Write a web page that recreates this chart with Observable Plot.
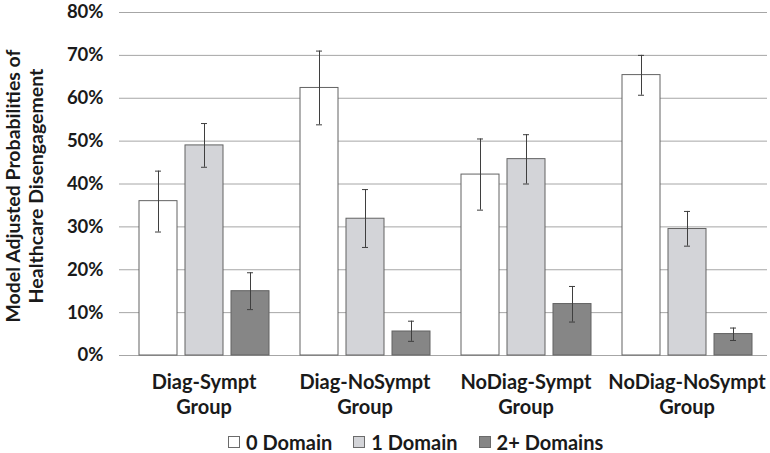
<!DOCTYPE html>
<html><head><meta charset="utf-8">
<script src="https://cdn.jsdelivr.net/npm/d3@7"></script>
<script src="https://cdn.jsdelivr.net/npm/@observablehq/plot@0.6"></script>
<style>
body{margin:0;background:#fff;font-family:Lato,sans-serif;}
#wrap{position:relative;width:770px;height:453px;overflow:hidden;}
#legend{position:absolute;left:228px;top:430px;height:24px;line-height:24px;display:flex;gap:21px;font:bold 20px Lato,sans-serif;color:#1a1a1a;white-space:nowrap;}
#legend span.item{display:flex;align-items:center;gap:6px;}
#legend span.sw{display:inline-block;width:10px;height:10px;border:1px solid #6b6b6b;}
#ytitle{position:absolute;left:-145px;top:162px;width:340px;height:48px;line-height:23px;text-align:center;transform:rotate(-90deg);font:bold 19.5px Lato,sans-serif;color:#1a1a1a;white-space:pre;}
</style></head><body><div id="wrap"></div>
<script>
const groups = ["Diag-Sympt", "Diag-NoSympt", "NoDiag-Sympt", "NoDiag-NoSympt"];
const series = ["0 Domain", "1 Domain", "2+ Domains"];
const domain0 = [36.0, 62.4, 42.2, 65.4];
const domain0Low = [28.8, 53.8, 33.9, 60.7];
const domain0High = [43.0, 71.0, 50.5, 70.0];
const domain1 = [49.0, 31.9, 45.8, 29.5];
const domain1Low = [43.9, 25.2, 40.0, 25.5];
const domain1High = [54.1, 38.7, 51.5, 33.6];
const domain2 = [15.0, 5.6, 12.0, 5.0];
const domain2Low = [10.7, 3.3, 7.8, 3.5];
const domain2High = [19.3, 8.0, 16.1, 6.4];
const yTicks = [0, 10, 20, 30, 40, 50, 60, 70, 80];
const yTitle = "Model Adjusted Probabilities of\nHealthcare Disengagement";
const colors = ["#ffffff", "#d3d4d8", "#868686"];

const vals = [domain0, domain1, domain2];
const lows = [domain0Low, domain1Low, domain2Low];
const highs = [domain0High, domain1High, domain2High];
const data = [];
series.forEach((s, si) => groups.forEach((g, gi) => data.push({group: g, series: s, value: vals[si][gi], lo: lows[si][gi], hi: highs[si][gi]})));

const chart = Plot.plot({
  width: 770, height: 430,
  marginTop: 12, marginBottom: 75, marginLeft: 122, marginRight: 3,
  style: {fontFamily: "Lato, sans-serif", fontSize: "18px", fontWeight: "bold", color: "#1a1a1a", background: "#fff"},
  fx: {domain: groups, padding: 0, axis: null, label: null},
  x: {domain: series, axis: null, paddingInner: 0.176, paddingOuter: 0.315},
  y: {domain: [0, 80], label: null},
  color: {domain: series, range: colors},
  marks: [
    Plot.ruleY(yTicks, {stroke: "#a6a6a6", strokeWidth: 1}),
    Plot.axisY({ticks: yTicks, tickFormat: d => d + "%", tickSize: 4, tickPadding: 16, stroke: "#a6a6a6", label: null, fontSize: 18.5, fontWeight: "bold"}),
    Plot.barY(data, {fx: "group", x: "series", y: "value", fill: "series", stroke: "#636363", strokeWidth: 1}),
    Plot.ruleX(data, {fx: "group", x: "series", y1: "lo", y2: "hi", stroke: "#3f3f3f", strokeWidth: 1}),
    Plot.tickY(data, {fx: "group", x: "series", y: "lo", stroke: "#3f3f3f", insetLeft: 16, insetRight: 16}),
    Plot.tickY(data, {fx: "group", x: "series", y: "hi", stroke: "#3f3f3f", insetLeft: 16, insetRight: 16}),
    Plot.text(groups, {fx: d => d, text: d => d + "\nGroup", frameAnchor: "bottom", dy: 16, lineAnchor: "top", lineHeight: 1.25, fontSize: 20, fontWeight: "bold", fill: "#1a1a1a"})
  ]
});
const wrap = document.getElementById("wrap");
wrap.appendChild(chart);
const title = document.createElement("div");
title.id = "ytitle";
title.textContent = yTitle;
wrap.appendChild(title);
const legend = document.createElement("div");
legend.id = "legend";
series.forEach((s, i) => {
  const it = document.createElement("span"); it.className = "item";
  const sw = document.createElement("span"); sw.className = "sw"; sw.style.background = colors[i];
  it.appendChild(sw); it.appendChild(document.createTextNode(s));
  legend.appendChild(it);
});
wrap.appendChild(legend);
</script></body></html>
